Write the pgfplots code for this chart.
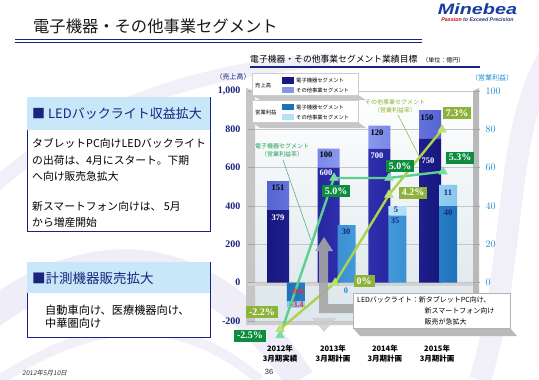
\documentclass[border=0pt]{standalone}
\usepackage{pgfplots}
\pgfplotsset{compat=1.18}
\usepackage{fontspec}
\setmainfont{Liberation Serif}
\newfontfamily\jp{Noto Sans CJK JP}
\newfontfamily\jpsl{Noto Sans CJK JP}[FakeSlant=0.2]
\newfontfamily\sans{Liberation Sans}
\definecolor{navyT}{HTML}{1A237E}
\definecolor{navyD}{HTML}{17177E}
\definecolor{navyM}{HTML}{3333B8}
\definecolor{periD}{HTML}{5564D2}
\definecolor{periM}{HTML}{93A2F4}
\definecolor{opD}{HTML}{1D72BC}
\definecolor{opM}{HTML}{4EA3E2}
\definecolor{otD}{HTML}{86C6EE}
\definecolor{otM}{HTML}{C8EBFC}
\definecolor{egreen}{HTML}{0E8C3E}
\definecolor{eline}{HTML}{5CCF8F}
\definecolor{emark}{HTML}{7CDBA2}
\definecolor{ogreen}{HTML}{8DB33A}
\definecolor{oline}{HTML}{ABD34C}
\definecolor{omark}{HTML}{BEE070}
\definecolor{cyanT}{HTML}{1E8AD0}
\definecolor{hdr}{HTML}{C8E7F8}
\definecolor{lav}{HTML}{E9E7F6}
\definecolor{wall}{HTML}{DCE6EC}
\definecolor{logo}{RGB}{27,60,158}
\pgfplotsset{base/.style={at={(255pt,-321pt)}, anchor=south west, scale only axis,
  width=218pt, height=230pt, xmin=-0.454, xmax=3.848, clip=false,
  axis line style={draw=none}}}
\begin{document}
\begin{tikzpicture}
\begin{scope}[x=1pt,y=-1pt]
\fill[white] (0,0) rectangle (539,380);
% faint background swirls
\draw[lav, line width=30pt, opacity=0.7] (-30,330) .. controls (80,240) and (200,230) .. (300,380);
\draw[lav, line width=14pt, opacity=0.6] (-20,200) .. controls (60,120) and (180,70) .. (330,60);
\draw[lav, line width=22pt, opacity=0.6] (480,380) .. controls (520,250) and (500,120) .. (560,40);
\draw[lav, line width=10pt, opacity=0.6] (0,380) .. controls (120,300) and (200,330) .. (260,380);
% plot walls
\shade[top color=white, bottom color=wall] (255,91) rectangle (473,321);
\fill[gray!45] (246,88) -- (255,91) -- (255,321) -- (246,325) -- cycle;
\fill[gray!55] (473,91) -- (479,88) -- (479,325) -- (473,321) -- cycle;
\fill[gray!40] (246,325) -- (255,321) -- (473,321) -- (479,325) -- cycle;
\fill[gray!35] (248,281.5) rectangle (473,286);
\end{scope}
% ---------- sales (left axis)
\begin{axis}[base, ymin=-200, ymax=1000, ybar stacked, bar width=22pt,
  ytick={-200,0,200,400,600,800,1000},
  yticklabels={-200,0,200,400,600,800,{1,000}},
  ytick pos=left, tick align=outside, major tick length=7pt,
  ytick style={gray!70, line width=1pt},
  yticklabel style={font=\fontsize{10}{10}\selectfont\bfseries, text=navyT, xshift=-4pt},
  ymajorgrids, grid style={gray!45, line width=0.7pt},
  xtick={0.04,1.085,2.11,3.14}, xtick pos=bottom, major x tick style={draw=none},
  xticklabels={{2012年\\3月期実績},{2013年\\3月期計画},{2014年\\3月期計画},{2015年\\3月期計画}},
  xticklabel style={font=\jp\bfseries\fontsize{7.5}{9.5}\selectfont, align=center, yshift=-14pt},
]
\addplot[draw=none, left color=navyD, right color=navyD, middle color=navyM] coordinates {(0,379) (1,600) (2,700) (3,750)};
\addplot[draw=none, left color=periD, right color=periD, middle color=periM] coordinates {(0,151) (1,100) (2,120) (3,150)};
\end{axis}
% ---------- operating profit (right axis)
\begin{axis}[base, ymin=-20, ymax=100, ybar stacked, bar width=18pt,
  ytick={-20,0,20,40,60,80,100}, ytick pos=right, yticklabel pos=right,
  tick align=outside, major tick length=7pt, ytick style={gray!70, line width=1pt},
  yticklabel style={font=\fontsize{10}{10}\selectfont\bfseries, text=cyanT, xshift=2pt},
  xtick=\empty]
\addplot[draw=none, left color=opD, right color=opD, middle color=opM] coordinates {(0.355,-9.6) (1.355,30) (2.355,35) (3.355,40)};
\addplot[draw=none, left color=otD, right color=otD, middle color=otM] coordinates {(0.355,-3.4) (1.355,0) (2.355,5) (3.355,11)};
\end{axis}
% ---------- operating margin (%)
\begin{axis}[base, ymin=-1.81, ymax=9.14, hide axis]
\addplot[eline, line width=2.4pt, mark=triangle*, mark size=5pt, mark options={fill=emark, draw=emark, line width=0.5pt}]
  coordinates {(0.04,-2.5) (1.105,5.0) (2.19,5.0) (3.256,5.3)};
\addplot[oline, line width=2.4pt, mark=triangle*, mark size=5pt, mark options={fill=omark, draw=omark, line width=0.5pt}]
  coordinates {(0.04,-2.2) (1.125,0) (2.19,4.2) (3.237,7.3)};
\end{axis}
\begin{scope}[x=1pt,y=-1pt]
% title
\node[anchor=west, inner sep=0, text=black!90] at (33,26) {\jp\fontsize{16.3}{16.3}\selectfont 電子機器・その他事業セグメント};
\draw[navyT, line width=1.6pt] (15,39.5) -- (422,39.5);
\draw[navyT, line width=0.6pt] (15,42.5) -- (422,42.5);
% logo
\node[anchor=center, inner sep=0, xscale=1.32, text=logo] at (477.5,9) {\sans\bfseries\itshape\fontsize{15}{15}\selectfont Minebea};
\node[anchor=center, inner sep=0] at (477.5,19.5) {\sans\bfseries\itshape\fontsize{5.3}{5.3}\selectfont\textcolor{red!80!black}{Passion} \textcolor{navyT!80!gray}{to Exceed Precision}};
% chart title
\node[anchor=west, inner sep=0] at (250,59) {\jp\fontsize{8.8}{9}\selectfont 電子機器・その他事業セグメント業績目標\hspace{5pt}\fontsize{6}{6}\selectfont （単位：億円）};
\draw[navyT, line width=1.1pt] (250,67) -- (480,67);
\node[text=navyT, inner sep=0] at (233,77) {\jp\fontsize{7}{7}\selectfont （売上高）};
\node[text=cyanT, inner sep=0] at (492,78) {\jp\fontsize{7}{7}\selectfont （営業利益）};
% legend
\fill[gray!45] (252,95) -- (358,95) -- (366,100) -- (260,100) -- cycle;
\draw[gray!40, fill=white] (252,73) rectangle (358,95);
\fill[gray!45] (252,122) -- (358,122) -- (366,128) -- (260,128) -- cycle;
\draw[gray!40, fill=white] (252,100) rectangle (358,122);
\begin{scope}[font=\jp\fontsize{5.3}{5.3}\selectfont]
\node[anchor=west, inner sep=0] at (255,85) {売上高};
\node[anchor=west, inner sep=0] at (255,112) {営業利益};
\fill[navyD] (282,77) rectangle (294,83.5);
\fill[periM!80!periD] (282,86.5) rectangle (294,93);
\fill[opD] (282,103.5) rectangle (294,110);
\fill[otM!70!otD] (282,113.5) rectangle (294,120);
\node[anchor=west, inner sep=0] at (296,80.5) {電子機器セグメント};
\node[anchor=west, inner sep=0] at (296,90) {その他事業セグメント};
\node[anchor=west, inner sep=0] at (296,107) {電子機器セグメント};
\node[anchor=west, inner sep=0] at (296,117) {その他事業セグメント};
\end{scope}
% margin annotations
\node[text=egreen!70!eline, align=center, inner sep=0, font=\jp\fontsize{6}{8}\selectfont] at (282,150) {電子機器セグメント\\（営業利益率）};
\draw[eline!80!black, line width=0.5pt] (283,160) -- (311,240);
\node[text=ogreen, align=center, inner sep=0, font=\jp\fontsize{6}{8}\selectfont] at (395,106) {その他事業セグメント\\（営業利益率）};
\draw[ogreen, line width=0.5pt] (398,115) -- (419,156);
% bar value labels
\begin{scope}[font=\bfseries\fontsize{8.5}{8.5}\selectfont, inner sep=0]
\node[text=black] at (278,188) {151};
\node[text=white] at (278,218) {379};
\node[text=black] at (326,155) {100};
\node[text=white] at (326,173) {600};
\node[text=black] at (377,133) {120};
\node[text=white] at (377,156) {700};
\node[text=black] at (427,118) {150};
\node[text=white] at (428,161) {750};
\node[text=navyT] at (346,232) {30};
\node[text=navyT] at (396,210) {5};
\node[text=navyT] at (395,221) {35};
\node[text=navyT] at (448,193) {11};
\node[text=navyT] at (448,213) {40};
\node[text=red!85!white] at (297,292) {-9.6};
\node[text=red!85!white] at (297,305) {-3.4};
\node[text=cyanT] at (346,291) {0};
\end{scope}
% big arrow
\fill[gray!70, opacity=0.9] (357,304) -- (328,304) -- (328,251) -- (333,251) -- (324,237) -- (315,251) -- (319,251) -- (319,313) -- (357,313) -- cycle;
\fill[gray!40, opacity=0.8] (312,318) -- (336,318) -- (324,332) -- cycle;
% LED note
\fill[gray!55] (353,328) -- (510,328) -- (517,336) -- (360,336) -- cycle;
\draw[gray!60, fill=white] (353,293) rectangle (510,328);
\begin{scope}[font=\jp\fontsize{7}{7}\selectfont, inner sep=0]
\node[anchor=west] at (357,300) {LEDバックライト：新タブレットPC向け、};
\node[anchor=west] at (424.5,311) {新スマートフォン向け};
\node[anchor=west] at (424.5,321.5) {販売が急拡大};
\end{scope}
% margin labels
\begin{scope}[font=\bfseries\fontsize{10}{10}\selectfont, text=white, inner xsep=3pt, inner ysep=1.5pt, minimum height=12pt]
\node[fill=egreen] at (250,335.5) {-2.5\%};
\node[fill=ogreen] at (262,312) {-2.2\%};
\node[fill=egreen] at (336,191) {5.0\%};
\node[fill=ogreen] at (364,281) {0\%};
\node[fill=egreen] at (400,166) {5.0\%};
\node[fill=ogreen] at (413,192.5) {4.2\%};
\node[fill=egreen] at (460,157.5) {5.3\%};
\node[fill=ogreen] at (457,113) {7.3\%};
\end{scope}
% left boxes
\draw[navyT, line width=0.8pt, fill=white] (27,97) rectangle (210,231);
\fill[hdr] (27.4,97.4) rectangle (209.6,130);
\node[anchor=west, inner sep=0, text=navyT] at (32,114) {\jp\fontsize{13}{13}\selectfont ■ LEDバックライト収益拡大};
\begin{scope}[font=\jp\fontsize{10.8}{10.8}\selectfont, inner sep=0]
\node[anchor=west] at (32,143.5) {タブレットPC向けLEDバックライト};
\node[anchor=west] at (32,160) {の出荷は、4月にスタート。下期};
\node[anchor=west] at (32,176.5) {へ向け販売急拡大};
\node[anchor=west] at (32,206) {新スマートフォン向けは、 5月};
\node[anchor=west] at (32,222) {から増産開始};
\end{scope}
\draw[navyT, line width=0.8pt, fill=white] (27,262) rectangle (210,337);
\fill[hdr] (27.4,262.4) rectangle (209.6,293);
\node[anchor=west, inner sep=0, text=navyT] at (32,278) {\jp\fontsize{13.5}{13.5}\selectfont ■計測機器販売拡大};
\node[anchor=west, inner sep=0] at (45,310) {\jp\fontsize{11.2}{11.2}\selectfont 自動車向け、医療機器向け、};
\node[anchor=west, inner sep=0] at (45,323.5) {\jp\fontsize{11.2}{11.2}\selectfont 中華圏向け};
% footer
\node[anchor=west, inner sep=0, text=black!80] at (22,373) {\jpsl\fontsize{6.5}{6.5}\selectfont 2012年5月10日};
\node[inner sep=0, text=black!85] at (269,372) {\sans\fontsize{7.5}{7.5}\selectfont 36};
\end{scope}
\pgfresetboundingbox
\path[use as bounding box] (0pt,0pt) rectangle (539pt,-380pt);
\end{tikzpicture}
\end{document}
